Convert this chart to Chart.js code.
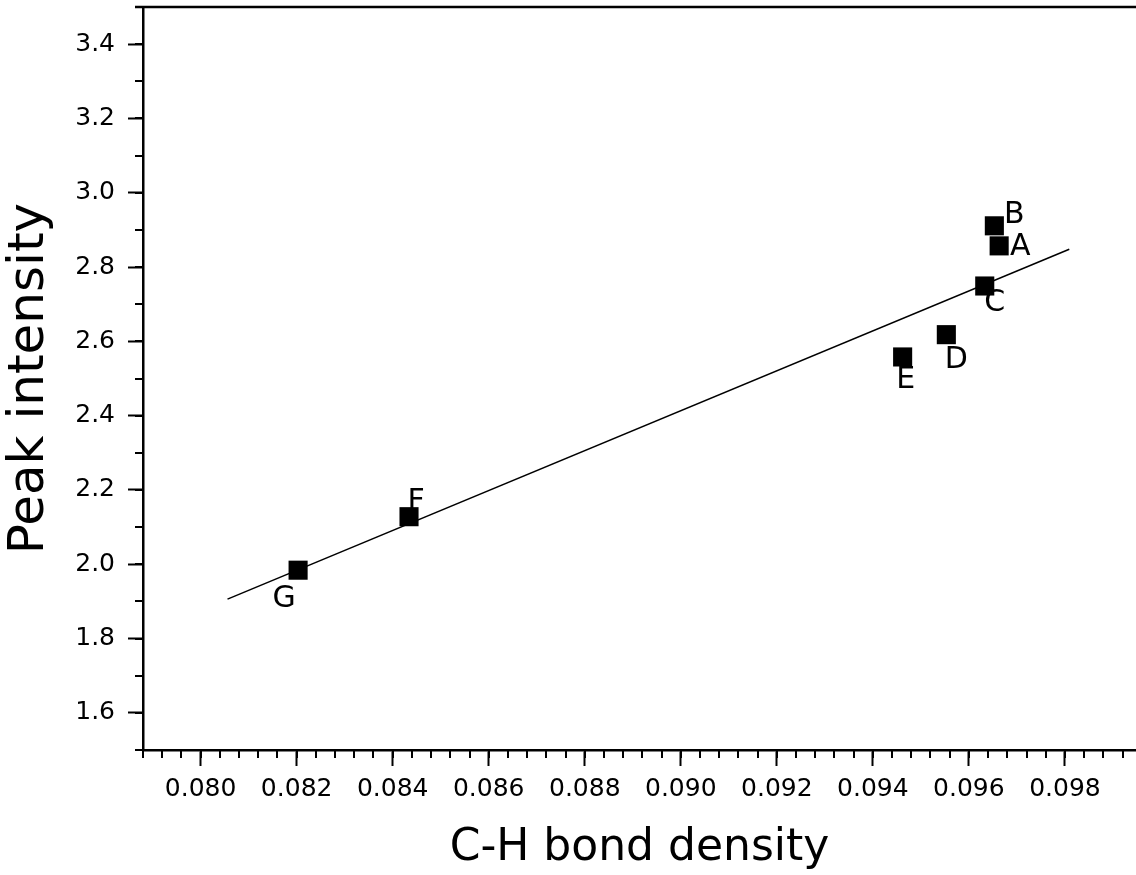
<!DOCTYPE html>
<html>
<head>
<meta charset="utf-8">
<script src="https://cdn.jsdelivr.net/npm/chart.js@4.4.1/dist/chart.umd.min.js"></script>
<style>
  html, body { margin: 0; padding: 0; background: #fff; }
  #wrap { width: 1136px; height: 875px; }
</style>
</head>
<body>
<div id="wrap"><canvas id="chart" width="1136" height="875"></canvas></div>
<script>
// sample labels and measured values
const sampleNames = ['A', 'B', 'C', 'D', 'E', 'F', 'G'];
const bondDensity = [0.09663, 0.09653, 0.09633, 0.09553, 0.09462, 0.08434, 0.08203];
const peakIntensity = [2.857, 2.911, 2.749, 2.618, 2.558, 2.128, 1.984];

// linear fit, end points
const fitX = [0.08056, 0.09809];
const fitY = [1.906, 2.848];

// axis ticks
const xMajorTicks = [0.080, 0.082, 0.084, 0.086, 0.088, 0.090, 0.092, 0.094, 0.096, 0.098];
const yMajorTicks = [1.6, 1.8, 2.0, 2.2, 2.4, 2.6, 2.8, 3.0, 3.2, 3.4];
const xRange = [0.0788, 0.09948];
const yRange = [1.5, 3.5];
const xMinorStep = 0.0004;
const yMinorStep = 0.1;

// label offsets from each marker (px)
const labelOffset = {
  A: [21, 1], B: [20, -11], C: [10, 17], D: [10, 26],
  E: [3, 23], F: [7, -14], G: [-14, 29]
};

const FONT = 'DejaVu Sans';

const scatterPts = bondDensity.map((x, i) => ({ x: x, y: peakIntensity[i] }));
const fitPts = fitX.map((x, i) => ({ x: x, y: fitY[i] }));

function noPad(s) {
  s.paddingTop = 0; s.paddingBottom = 0;
  s.paddingLeft = 0; s.paddingRight = 0;
}

const minorTicks = {
  id: 'minorTicks',
  afterDraw(chart) {
    const ctx = chart.ctx;
    const xs = chart.scales.x, ys = chart.scales.y;
    const area = chart.chartArea;
    ctx.save();
    ctx.strokeStyle = '#000';
    ctx.lineWidth = 2;
    ctx.beginPath();
    for (let i = 0; ; i++) {
      const v = xRange[0] + i * xMinorStep;
      if (v > xRange[1] + 1e-9) break;
      const px = Math.round(xs.getPixelForValue(v));
      ctx.moveTo(px, area.bottom);
      ctx.lineTo(px, area.bottom + 8);
    }
    for (let i = 0; ; i++) {
      const v = yRange[0] + i * yMinorStep;
      if (v > yRange[1] + 1e-9) break;
      const py = Math.round(ys.getPixelForValue(v));
      ctx.moveTo(area.left, py);
      ctx.lineTo(area.left - 8, py);
    }
    ctx.stroke();
    // top frame line
    ctx.lineWidth = 2.5;
    ctx.beginPath();
    ctx.moveTo(area.left - 8, area.top);
    ctx.lineTo(area.right, area.top);
    ctx.stroke();
    ctx.restore();
  }
};

const pointNames = {
  id: 'pointNames',
  beforeDatasetsDraw(chart) {
    const ctx = chart.ctx;
    const meta = chart.getDatasetMeta(0);
    ctx.save();
    ctx.fillStyle = '#000';
    ctx.font = '30px "' + FONT + '"';
    ctx.textAlign = 'center';
    ctx.textBaseline = 'middle';
    meta.data.forEach((pt, i) => {
      const name = sampleNames[i];
      const off = labelOffset[name];
      ctx.fillText(name, pt.x + off[0], pt.y + off[1]);
    });
    ctx.restore();
  }
};

new Chart(document.getElementById('chart'), {
  type: 'scatter',
  data: {
    datasets: [
      {
        label: 'samples',
        data: scatterPts,
        pointStyle: 'rect',
        pointRadius: 13.5,
        pointHoverRadius: 13.5,
        backgroundColor: '#000',
        borderWidth: 0,
        showLine: false,
        order: 1
      },
      {
        label: 'fit',
        type: 'line',
        data: fitPts,
        borderColor: '#000',
        borderWidth: 1.5,
        pointRadius: 0,
        fill: false,
        tension: 0,
        order: 2
      }
    ]
  },
  options: {
    responsive: false,
    animation: false,
    events: [],
    layout: { autoPadding: false, padding: { top: 7, right: 0, left: 0, bottom: 0 } },
    plugins: { legend: { display: false }, tooltip: { enabled: false } },
    scales: {
      x: {
        type: 'linear',
        min: xRange[0],
        max: xRange[1],
        afterBuildTicks: s => { s.ticks = xMajorTicks.map(v => ({ value: v })); },
        afterFit: s => { s.height = 125; noPad(s); },
        ticks: {
          color: '#000',
          font: { family: FONT, size: 25 },
          padding: 8,
          maxRotation: 0,
          autoSkip: false,
          callback: v => Number(v).toFixed(3)
        },
        grid: { drawOnChartArea: false, drawTicks: true, tickLength: 16, tickWidth: 2, tickColor: '#000' },
        border: { display: true, color: '#000', width: 2.5 },
        title: {
          display: true,
          text: 'C-H bond density',
          color: '#000',
          font: { family: FONT, size: 44 },
          padding: { top: 0, bottom: 0 }
        }
      },
      y: {
        type: 'linear',
        min: yRange[0],
        max: yRange[1],
        afterBuildTicks: s => { s.ticks = yMajorTicks.map(v => ({ value: v })); },
        afterFit: s => { s.width = 143; noPad(s); },
        ticks: {
          color: '#000',
          font: { family: FONT, size: 25 },
          padding: 13,
          autoSkip: false,
          callback: v => Number(v).toFixed(1)
        },
        grid: { drawOnChartArea: false, drawTicks: true, tickLength: 15, tickWidth: 2, tickColor: '#000' },
        border: { display: true, color: '#000', width: 2.5 },
        title: {
          display: true,
          text: 'Peak intensity',
          color: '#000',
          font: { family: FONT, size: 50 },
          padding: { top: 0, bottom: 0 }
        }
      }
    }
  },
  plugins: [minorTicks, pointNames]
});
</script>
</body>
</html>
